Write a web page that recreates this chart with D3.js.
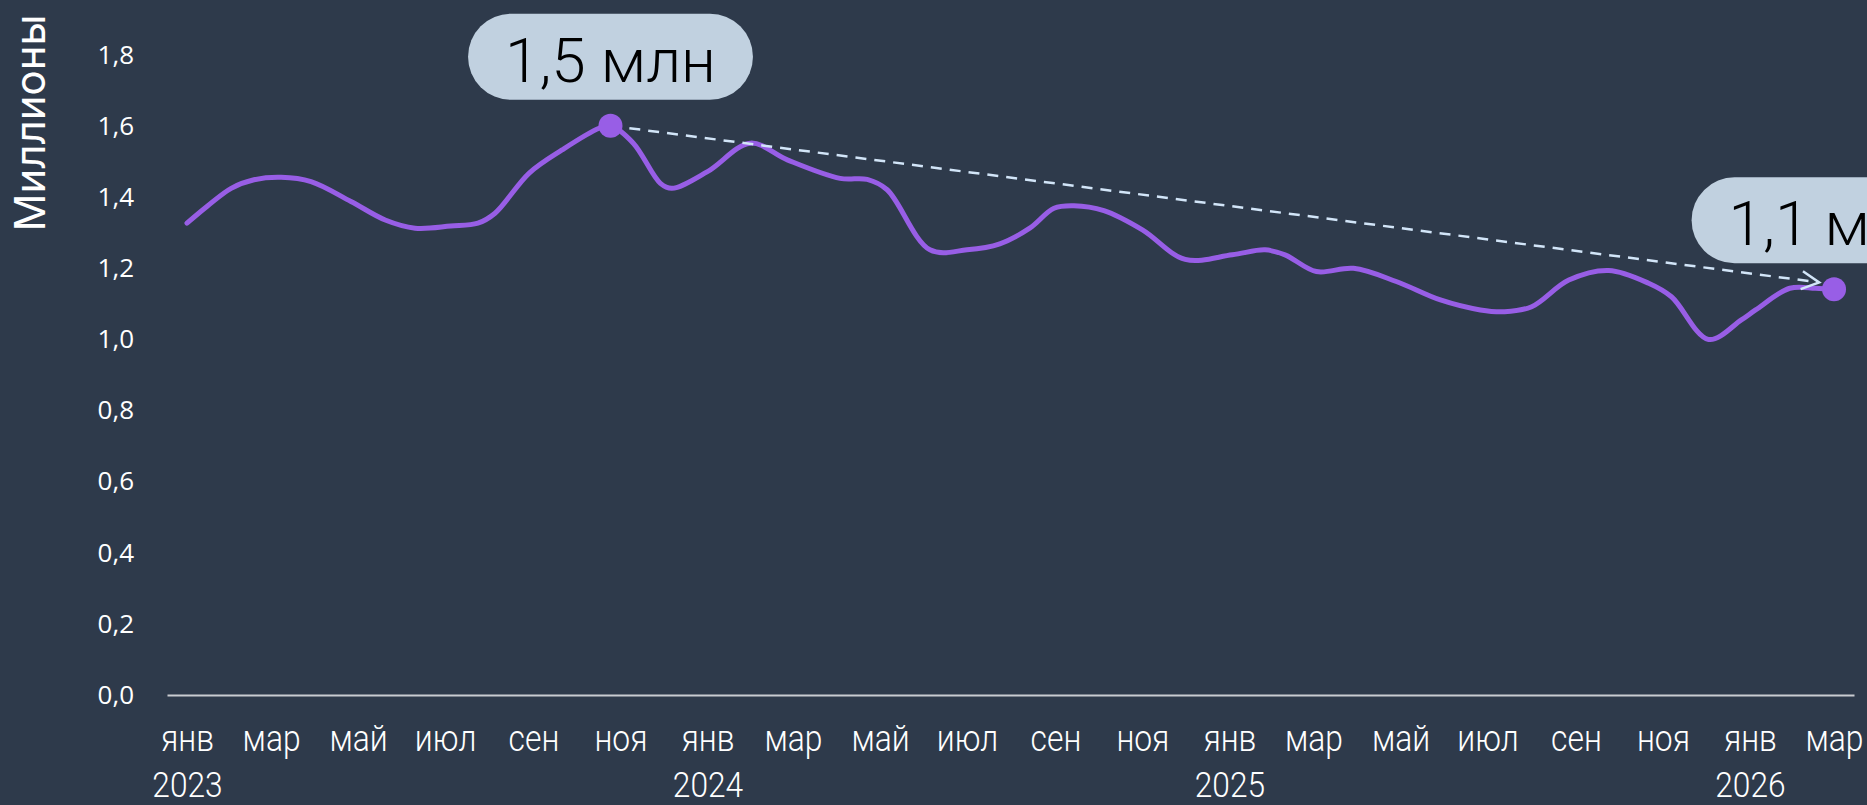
<!DOCTYPE html>
<html>
<head>
<meta charset="utf-8">
<script src="https://cdn.jsdelivr.net/npm/d3@7"></script>
<style>
    body { margin: 0; background: #2e3a4b; }
    svg { display: block; }
    .axis text { fill: #ffffff; }
    .x-axis text { font-family: Roboto, "Liberation Sans", sans-serif; font-weight: 300; font-size: 37px; }
    .year-axis text { font-family: Roboto, "Liberation Sans", sans-serif; font-weight: 300; font-size: 36px; }
    .y-axis text { font-family: "Open Sans", "Noto Sans", sans-serif; font-size: 26px; }
    .axis-title { font-family: Inter, "Noto Sans", sans-serif; font-size: 42px; fill: #ffffff; }
    .callout text { font-family: Roboto, "Noto Sans", sans-serif; font-weight: 300; font-size: 62px; fill: #000000; }
</style>
</head>
<body>
<svg id="chart"></svg>
<script>
// Series (millions of people)
const dates = [
    '2023-01-01', '2023-01-15', '2023-02-01', '2023-02-17', '2023-03-08', '2023-03-29',
    '2023-04-26', '2023-05-20', '2023-06-10', '2023-07-05', '2023-07-24', '2023-08-05',
    '2023-08-29', '2023-09-21', '2023-10-17', '2023-10-25', '2023-11-10', '2023-11-29',
    '2023-12-07', '2024-01-01', '2024-01-31', '2024-02-26', '2024-04-03', '2024-04-22',
    '2024-05-06', '2024-06-05', '2024-07-01', '2024-07-24', '2024-08-14', '2024-08-31',
    '2024-09-14', '2024-10-05', '2024-11-01', '2024-12-01', '2025-01-03', '2025-01-26',
    '2025-02-09', '2025-03-03', '2025-03-29', '2025-04-28', '2025-05-29', '2025-06-26',
    '2025-07-13', '2025-08-01', '2025-08-27', '2025-09-24', '2025-10-22', '2025-11-07',
    '2025-12-03', '2025-12-26', '2026-01-05', '2026-01-29', '2026-02-16', '2026-03-01'
];
const values = [
    1.327, 1.374, 1.425, 1.449, 1.456, 1.444,
    1.388, 1.336, 1.313, 1.319, 1.327, 1.355,
    1.468, 1.533, 1.594, 1.601, 1.552, 1.439,
    1.425, 1.472, 1.552, 1.505, 1.453, 1.450,
    1.421, 1.252, 1.252, 1.269, 1.313, 1.369,
    1.376, 1.362, 1.308, 1.225, 1.238, 1.252,
    1.238, 1.191, 1.200, 1.163, 1.111, 1.083,
    1.078, 1.092, 1.167, 1.194, 1.158, 1.120,
    1.000, 1.055, 1.083, 1.144, 1.144, 1.141
];

// Axis labels
const monthNames = ['янв', 'фев', 'мар', 'апр', 'май', 'июн', 'июл', 'авг', 'сен', 'окт', 'ноя', 'дек'];
const yearLabels = ['2023', '2024', '2025', '2026'];
const yTicks = [0, 0.2, 0.4, 0.6, 0.8, 1.0, 1.2, 1.4, 1.6, 1.8];
const yTitle = 'Миллионы';

// Highlighted points: peak and last value
const calloutIndex = [15, 53];
const calloutLabels = ['1,5 млн', '1,1 млн'];

class LineChart {

    constructor(_config, _data) {
        this.config = {
            parentElement: _config.parentElement,
            containerWidth: _config.containerWidth || 1867,
            containerHeight: _config.containerHeight || 805,
            lineColor: _config.lineColor || '#985ee6',
            trendColor: _config.trendColor || '#d2e5f8',
            boxColor: _config.boxColor || '#c1d1e0'
        }
        this.data = _data;
        this.initVis();
    }

    initVis() {
        let vis = this;

        vis.svg = d3.select(vis.config.parentElement)
            .attr('width', vis.config.containerWidth)
            .attr('height', vis.config.containerHeight);

        vis.svg.append('rect')
            .attr('width', vis.config.containerWidth)
            .attr('height', vis.config.containerHeight)
            .attr('fill', '#2e3a4b');

        // Half a month of padding on both ends of the time axis
        vis.xScale = d3.scaleTime()
            .domain([new Date(2022, 11, 18), new Date(2026, 2, 15)])
            .range([167, 1854]);

        vis.yScale = d3.scaleLinear()
            .domain([0, 1.8])
            .range([695, 55]);

        const ru = d3.formatLocale({decimal: ',', thousands: ' ', grouping: [3], currency: ['', ' ₽']});

        vis.xAxis = d3.axisBottom(vis.xScale)
            .tickValues(d3.timeMonth.every(2).range(new Date(2023, 0, 1), new Date(2026, 2, 2)))
            .tickFormat(d => monthNames[d.getMonth()])
            .tickSize(0)
            .tickSizeOuter(0);

        vis.yearAxis = d3.axisBottom(vis.xScale)
            .tickValues(yearLabels.map(y => new Date(+y, 0, 1)))
            .tickFormat((d, i) => yearLabels[i])
            .tickSize(0);

        vis.yAxis = d3.axisLeft(vis.yScale)
            .tickValues(yTicks)
            .tickFormat(ru.format('.1f'))
            .tickSize(0)
            .tickPadding(33);

        vis.xAxisG = vis.svg.append('g')
            .attr('class', 'axis x-axis')
            .attr('transform', `translate(0,${vis.yScale(0)})`);

        vis.yearAxisG = vis.svg.append('g')
            .attr('class', 'axis year-axis')
            .attr('transform', `translate(0,${vis.yScale(0)})`);

        vis.yAxisG = vis.svg.append('g')
            .attr('class', 'axis y-axis')
            .attr('transform', `translate(${vis.xScale.range()[0]},0)`);

        vis.svg.append('text')
            .attr('class', 'axis-title')
            .attr('transform', 'translate(30,123) rotate(-90)')
            .attr('text-anchor', 'middle')
            .attr('dy', '0.36em')
            .text(yTitle);

        // open chevron for the trend arrow
        vis.svg.append('defs').append('marker')
            .attr('id', 'chevron')
            .attr('markerUnits', 'userSpaceOnUse')
            .attr('viewBox', '-22 -13 26 26')
            .attr('markerWidth', 26)
            .attr('markerHeight', 26)
            .attr('refX', 0)
            .attr('refY', 0)
            .attr('orient', 'auto')
          .append('path')
            .attr('d', 'M-17.5,-9 L0,0 L-17.5,9')
            .attr('fill', 'none')
            .attr('stroke', vis.config.trendColor)
            .attr('stroke-width', 2.5);

        vis.chart = vis.svg.append('g');

        vis.updateVis();
    }

    updateVis() {
        let vis = this;

        vis.xValue = d => d.date;
        vis.yValue = d => d.value;

        vis.line = d3.line()
            .x(d => vis.xScale(vis.xValue(d)))
            .y(d => vis.yScale(vis.yValue(d)))
            .curve(d3.curveCatmullRom.alpha(0.5));

        vis.renderVis();
    }

    renderVis() {
        let vis = this;

        // Axes (labels squeezed to look like a condensed face)
        vis.xAxisG.call(vis.xAxis);
        vis.xAxisG.select('.domain')
            .attr('stroke', '#c9ccd1')
            .attr('stroke-width', 2);
        vis.xAxisG.selectAll('text')
            .attr('y', 56)
            .attr('dy', null)
            .attr('transform', 'scale(0.86,1)');

        vis.yearAxisG.call(vis.yearAxis);
        vis.yearAxisG.select('.domain').remove();
        vis.yearAxisG.selectAll('text')
            .attr('y', 102)
            .attr('dy', null)
            .attr('transform', 'scale(0.88,1)');

        vis.yAxisG.call(vis.yAxis);
        vis.yAxisG.select('.domain').remove();

        // Main series
        vis.chart.append('path')
            .datum(vis.data)
            .attr('d', vis.line)
            .attr('fill', 'none')
            .attr('stroke', vis.config.lineColor)
            .attr('stroke-width', 5)
            .attr('stroke-linecap', 'round')
            .attr('stroke-linejoin', 'round');

        const marked = calloutIndex.map(i => vis.data[i]);
        const pts = marked.map(d => [vis.xScale(vis.xValue(d)), vis.yScale(vis.yValue(d))]);

        // Dashed trend from peak to last value, stopping short of the last dot
        const [p0, p1] = pts;
        const end = [p1[0], p1[1] - 5];
        const len = Math.hypot(end[0] - p0[0], end[1] - p0[1]);
        const k = (len - 15) / len;
        vis.chart.append('line')
            .attr('x1', p0[0])
            .attr('y1', p0[1])
            .attr('x2', p0[0] + (end[0] - p0[0]) * k)
            .attr('y2', p0[1] + (end[1] - p0[1]) * k)
            .attr('stroke', vis.config.trendColor)
            .attr('stroke-width', 2.5)
            .attr('stroke-dasharray', '11 8')
            .attr('marker-end', 'url(#chevron)');

        vis.chart.selectAll('.dot')
            .data(marked)
            .join('circle')
                .attr('class', 'dot')
                .attr('cx', d => vis.xScale(vis.xValue(d)))
                .attr('cy', d => vis.yScale(vis.yValue(d)))
                .attr('r', 12)
                .attr('fill', vis.config.lineColor);

        // Pill shaped labels above the dots
        const callouts = vis.chart.selectAll('.callout')
            .data(marked)
            .join('g')
                .attr('class', 'callout')
                .attr('transform', d => `translate(${vis.xScale(vis.xValue(d))},${vis.yScale(vis.yValue(d)) - 26 - 43})`);

        callouts.append('rect');
        callouts.append('text')
            .attr('text-anchor', 'middle')
            .attr('y', 25)
            .text((d, i) => calloutLabels[i]);

        callouts.each(function() {
            const g = d3.select(this);
            const w = g.select('text').node().getComputedTextLength() + 74;
            g.select('rect')
                .attr('x', -w / 2)
                .attr('y', -43)
                .attr('width', w)
                .attr('height', 86)
                .attr('rx', 43)
                .attr('fill', vis.config.boxColor);
        });
    }
}

const data = dates.map((d, i) => ({date: d3.timeParse('%Y-%m-%d')(d), value: values[i]}));

const lineChart = new LineChart({parentElement: '#chart'}, data);
</script>
</body>
</html>
